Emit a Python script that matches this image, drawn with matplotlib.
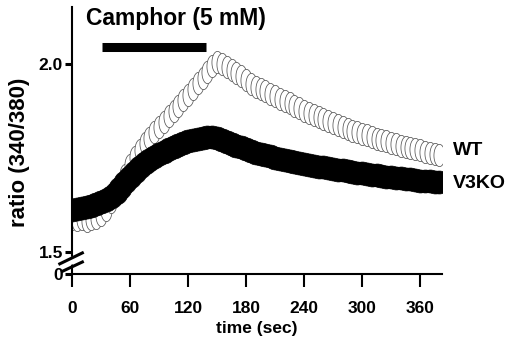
import numpy as np
import matplotlib
matplotlib.use("Agg")
import matplotlib.pyplot as plt
from matplotlib.path import Path

# ---------------- data ----------------
time_sec = np.arange(0, 381, 5)

wt_ratio = [1.588, 1.584, 1.587, 1.583, 1.588, 1.590, 1.598, 1.612, 1.632, 1.655,
            1.680, 1.706, 1.731, 1.752, 1.772, 1.789, 1.804, 1.818, 1.833, 1.846,
            1.861, 1.874, 1.889, 1.903, 1.918, 1.933, 1.949, 1.964, 1.980, 1.996,
            2.004, 2.000, 1.993, 1.984, 1.976, 1.968, 1.957, 1.948, 1.940, 1.933,
            1.929, 1.921, 1.915, 1.908, 1.901, 1.895, 1.889, 1.882, 1.876, 1.870,
            1.865, 1.858, 1.853, 1.849, 1.843, 1.838, 1.832, 1.828, 1.823, 1.818,
            1.814, 1.810, 1.806, 1.801, 1.798, 1.794, 1.790, 1.787, 1.783, 1.780,
            1.776, 1.773, 1.770, 1.767, 1.764, 1.761, 1.758]

v3ko_ratio = [1.612, 1.614, 1.617, 1.619, 1.623, 1.627, 1.632, 1.637, 1.645, 1.656,
              1.670, 1.685, 1.700, 1.714, 1.726, 1.737, 1.745, 1.752, 1.760, 1.767,
              1.773, 1.779, 1.784, 1.789, 1.794, 1.798, 1.801, 1.804, 1.806, 1.805,
              1.802, 1.798, 1.793, 1.788, 1.783, 1.778, 1.773, 1.768, 1.764, 1.760,
              1.757, 1.754, 1.751, 1.748, 1.745, 1.742, 1.739, 1.736, 1.734, 1.731,
              1.729, 1.727, 1.725, 1.723, 1.721, 1.719, 1.717, 1.715, 1.713, 1.711,
              1.709, 1.707, 1.705, 1.704, 1.702, 1.700, 1.699, 1.697, 1.696, 1.694,
              1.693, 1.691, 1.690, 1.689, 1.688, 1.687, 1.686]

camphor_on, camphor_off = 31, 139
x_ticks = [0, 60, 120, 180, 240, 300, 360]
y_break_base = 1.4415          # value drawn at the "0" (broken axis) position
y_ticks = [y_break_base, 1.5, 2.0]
y_tick_labels = ["0", "1.5", "2.0"]
series_labels = ["WT", "V3KO"]

# ---------------- style ----------------
plt.rcParams["font.family"] = ["Liberation Sans", "DejaVu Sans"]
plt.rcParams["font.weight"] = "bold"

W, H = 507, 339
fig = plt.figure(figsize=(W / 100, H / 100), dpi=100)

def fx(x):
    return x / W

def fy(y):
    return 1 - y / H

ax = fig.add_axes([fx(72), fy(274), (442 - 72) / W, (274 - 7) / H])

theta = np.linspace(0, 2 * np.pi, 60)
ell = Path(np.column_stack([0.5 * np.cos(theta), np.sin(theta)]), closed=True)

ax.plot(time_sec, wt_ratio, linestyle="none", marker=ell, markersize=16,
        markerfacecolor="white", markeredgecolor="#555555", markeredgewidth=0.55,
        zorder=2)
ax.plot(time_sec, v3ko_ratio, linestyle="none", marker="o", markersize=16.5,
        markerfacecolor="black", markeredgecolor="black", markeredgewidth=0.5,
        zorder=3)

ax.set_xlim(0, 382.7)
ax.set_ylim(y_break_base, 2.1516)

for s in ["top", "right"]:
    ax.spines[s].set_visible(False)
for s in ["left", "bottom"]:
    ax.spines[s].set_linewidth(1.5)

ax.set_xticks(x_ticks)
ax.set_xticklabels([str(v) for v in x_ticks])
ax.tick_params(axis="x", direction="out", length=9.5, width=1.5, pad=10,
               labelsize=12.5)
ax.set_yticks(y_ticks)
ax.set_yticklabels(y_tick_labels)
ax.tick_params(axis="y", direction="out", length=5, width=2.2, pad=1.5,
               labelsize=12.5)
for lab in ax.get_xticklabels() + ax.get_yticklabels():
    lab.set_fontweight("bold")

# camphor bar
ax.plot([camphor_on, camphor_off], [2.044, 2.044], color="black",
        linewidth=6.5, solid_capstyle="butt", clip_on=False, zorder=5)

# axis break
ax.plot([-0.02, 0.02], [0.0426, 0.0576], transform=ax.transAxes,
        color="white", linewidth=5.5, clip_on=False, zorder=6,
        solid_capstyle="butt")
ax.plot([-0.033, 0.028], [0.038, 0.079], transform=ax.transAxes,
        color="black", linewidth=2.2, clip_on=False, zorder=7)
ax.plot([-0.026, 0.028], [0.010, 0.045], transform=ax.transAxes,
        color="black", linewidth=2.2, clip_on=False, zorder=7)

# texts
fig.text(fx(176), fy(25), "Camphor (5 mM)", ha="center", va="baseline",
         fontsize=16.5, fontweight="bold")
fig.text(fx(20), fy(152), "ratio (340/380)", rotation=90, ha="center",
         va="center", fontsize=16, fontweight="bold")
fig.text(fx(257), fy(329), "time (sec)", ha="center", va="center",
         fontsize=12.5, fontweight="bold")
fig.text(fx(453), fy(151), series_labels[0], ha="left", va="center",
         fontsize=14, fontweight="bold")
fig.text(fx(453), fy(184), series_labels[1], ha="left", va="center",
         fontsize=14, fontweight="bold")

fig.savefig("out.png", dpi=100)
